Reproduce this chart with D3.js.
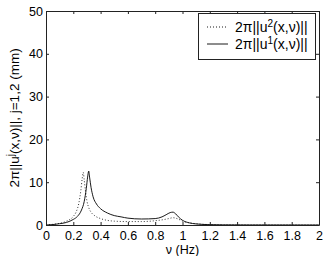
<!DOCTYPE html>
<html>
<head>
<meta charset="utf-8">
<script src="https://cdn.jsdelivr.net/npm/d3@7"></script>
<style>
  body { margin: 0; background: #fff; }
  svg { display: block; font-family: "Liberation Sans", Arial, sans-serif; }
</style>
</head>
<body>
<svg></svg>
<script>
// solid: 2π||u1(x,ν)||
const nu1 = [0, 0.05, 0.1, 0.15, 0.2, 0.23, 0.26, 0.28, 0.295, 0.305, 0.313, 0.32, 0.33, 0.345, 0.37, 0.4, 0.45, 0.5, 0.55, 0.6, 0.7, 0.8, 0.85, 0.88, 0.91, 0.93, 0.95, 0.97, 1.0, 1.05, 1.1, 1.2, 1.3, 1.5, 2.0];
const u1 = [0, 0.1, 0.3, 0.6, 1.3, 2.0, 3.5, 5.5, 8.5, 11.2, 12.6, 11.0, 8.8, 6.6, 4.9, 3.8, 2.8, 2.2, 1.9, 1.6, 1.4, 1.5, 1.9, 2.4, 2.9, 3.0, 2.6, 1.9, 1.1, 0.5, 0.25, 0.08, 0.03, 0.01, 0];
// dotted: 2π||u2(x,ν)||
const nu2 = [0, 0.05, 0.1, 0.15, 0.2, 0.22, 0.24, 0.255, 0.265, 0.273, 0.28, 0.29, 0.3, 0.315, 0.33, 0.36, 0.4, 0.5, 0.6, 0.7, 0.8, 0.85, 0.9, 0.93, 0.96, 1.0, 1.05, 1.1, 1.2, 1.4, 2.0];
const u2 = [0, 0.15, 0.4, 0.9, 2.0, 3.0, 5.0, 8.0, 10.8, 12.3, 10.5, 7.8, 5.6, 3.9, 3.0, 2.1, 1.5, 0.9, 0.8, 0.8, 1.0, 1.2, 1.5, 1.7, 1.5, 0.9, 0.5, 0.3, 0.1, 0.02, 0];
const xTicks = [0, 0.2, 0.4, 0.6, 0.8, 1, 1.2, 1.4, 1.6, 1.8, 2];
const yTicks = [0, 10, 20, 30, 40, 50];

const W = 327, H = 256;
const m = { left: 46, right: 8, top: 11, bottom: 31 };
const svg = d3.select("svg").attr("width", W).attr("height", H);

const x = d3.scaleLinear().domain([0, 2]).range([m.left, W - m.right]);
const y = d3.scaleLinear().domain([0, 50]).range([H - m.bottom, m.top]);

const line = d3.line().x(d => x(d[0])).y(d => y(d[1])).curve(d3.curveMonotoneX);

// curves
svg.append("path").datum(nu2.map((v, i) => [v, u2[i]]))
  .attr("d", line).attr("fill", "none").attr("stroke", "#000").attr("stroke-width", 0.8)
  .attr("stroke-dasharray", "1,2");
svg.append("path").datum(nu1.map((v, i) => [v, u1[i]]))
  .attr("d", line).attr("fill", "none").attr("stroke", "#000").attr("stroke-width", 0.9);

// axes box with inward ticks
const tk = 3;
const axB = svg.append("g").attr("transform", `translate(0,${y(0)})`)
  .call(d3.axisBottom(x).tickValues(xTicks).tickSizeInner(-tk).tickSizeOuter(0).tickPadding(4).tickFormat(d3.format("")));
const axT = svg.append("g").attr("transform", `translate(0,${y(50)})`)
  .call(d3.axisTop(x).tickValues(xTicks).tickSizeInner(-tk).tickSizeOuter(0).tickFormat(""));
const axL = svg.append("g").attr("transform", `translate(${x(0)},0)`)
  .call(d3.axisLeft(y).tickValues(yTicks).tickSizeInner(-tk).tickSizeOuter(0).tickPadding(3));
const axR = svg.append("g").attr("transform", `translate(${x(2)},0)`)
  .call(d3.axisRight(y).tickValues(yTicks).tickSizeInner(-tk).tickSizeOuter(0).tickFormat(""));
[axB, axT, axL, axR].forEach(a => {
  a.selectAll("path, line").attr("stroke", "#222");
  a.selectAll("text").attr("fill", "#000").style("font-size", "12.5px").style("font-family", "Liberation Sans, Arial, sans-serif");
});
axB.selectAll(".tick text").attr("dy", "0.9em");

// axis labels
svg.append("text").attr("x", x(1)).attr("y", 253.5).attr("text-anchor", "middle")
  .style("font-size", "12.5px").text("ν (Hz)");

const yl = svg.append("text").attr("transform", `translate(19,118) rotate(-90)`)
  .attr("text-anchor", "middle").style("font-size", "13.5px");
yl.append("tspan").text("2π||u");
yl.append("tspan").attr("dy", -5).style("font-size", "10px").text("j");
yl.append("tspan").attr("dy", 5).text("(x,ν)||, j=1,2 (mm)");

// legend
const lg = svg.append("g");
lg.append("rect").attr("x", 198.5).attr("y", 13.5).attr("width", 117).attr("height", 46)
  .attr("fill", "#fff").attr("stroke", "#222");
const items = [
  { dash: "1,2", sup: "2", y: 32 },
  { dash: null, sup: "1", y: 49 }
];
items.forEach(it => {
  lg.append("line").attr("x1", 207).attr("x2", 228).attr("y1", it.y - 5).attr("y2", it.y - 5)
    .attr("stroke", "#000").attr("stroke-width", 0.9).attr("stroke-dasharray", it.dash);
  const t = lg.append("text").attr("x", 235).attr("y", it.y).style("font-size", "14px");
  t.append("tspan").text("2π||u");
  t.append("tspan").attr("dy", -5).style("font-size", "10px").text(it.sup);
  t.append("tspan").attr("dy", 5).text("(x,ν)||");
});
</script>
</body>
</html>
